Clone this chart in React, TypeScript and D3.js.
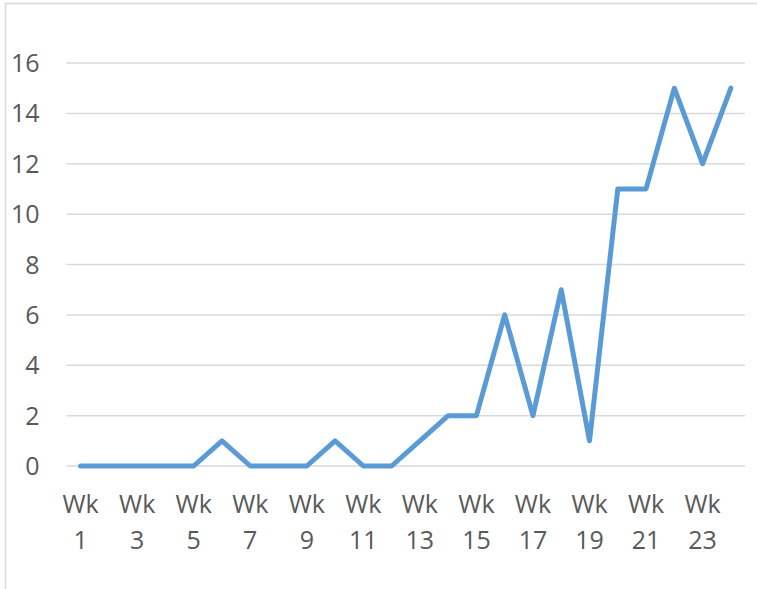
import React from "react";
import * as d3 from "d3";

const weeks: string[] = Array.from({ length: 24 }, (_, i) => `Wk ${i + 1}`);
const values: number[] = [0, 0, 0, 0, 0, 1, 0, 0, 0, 1, 0, 0, 1, 2, 2, 6, 2, 7, 1, 11, 11, 15, 12, 15];
const yTicks: number[] = [0, 2, 4, 6, 8, 10, 12, 14, 16];

const W = 757;
const H = 589;

export default function App() {
  const x = d3.scaleBand<string>().domain(weeks).range([66.5, 745]).padding(0);
  const y = d3.scaleLinear().domain([0, 16]).range([466, 63]);
  const cx = (w: string) => (x(w) as number) + x.bandwidth() / 2;
  const line = d3
    .line<number>()
    .x((_, i) => cx(weeks[i]))
    .y((d) => y(d));
  const font = "'Open Sans', 'Liberation Sans', sans-serif";
  return (
    <svg
      width={W}
      height={H}
      style={{ position: "absolute", left: 0, top: 0, background: "#fff" }}
    >
      <rect x={5.5} y={3.5} width={W} height={H} fill="#fff" stroke="#d9d9d9" strokeWidth={1.5} />
      {yTicks.map((t) => (
        <g key={t}>
          <line x1={66.5} x2={745} y1={y(t)} y2={y(t)} stroke="#d9d9d9" strokeWidth={1.5} />
          <text
            x={39.5}
            y={y(t)}
            dy="0.36em"
            textAnchor="end"
            fontFamily={font}
            fontSize={25}
            fill="#595959"
          >
            {t}
          </text>
        </g>
      ))}
      {weeks.map((w, i) =>
        i % 2 === 0 ? (
          <text key={w} x={cx(w)} textAnchor="middle" fontFamily={font} fontSize={25} fill="#595959">
            <tspan x={cx(w)} y={512.5}>
              {w.split(" ")[0]}
            </tspan>
            <tspan x={cx(w)} y={549}>
              {w.split(" ")[1]}
            </tspan>
          </text>
        ) : null
      )}
      <path
        d={line(values) || ""}
        fill="none"
        stroke="#5b9bd5"
        strokeWidth={5}
        strokeLinejoin="round"
        strokeLinecap="round"
      />
    </svg>
  );
}
